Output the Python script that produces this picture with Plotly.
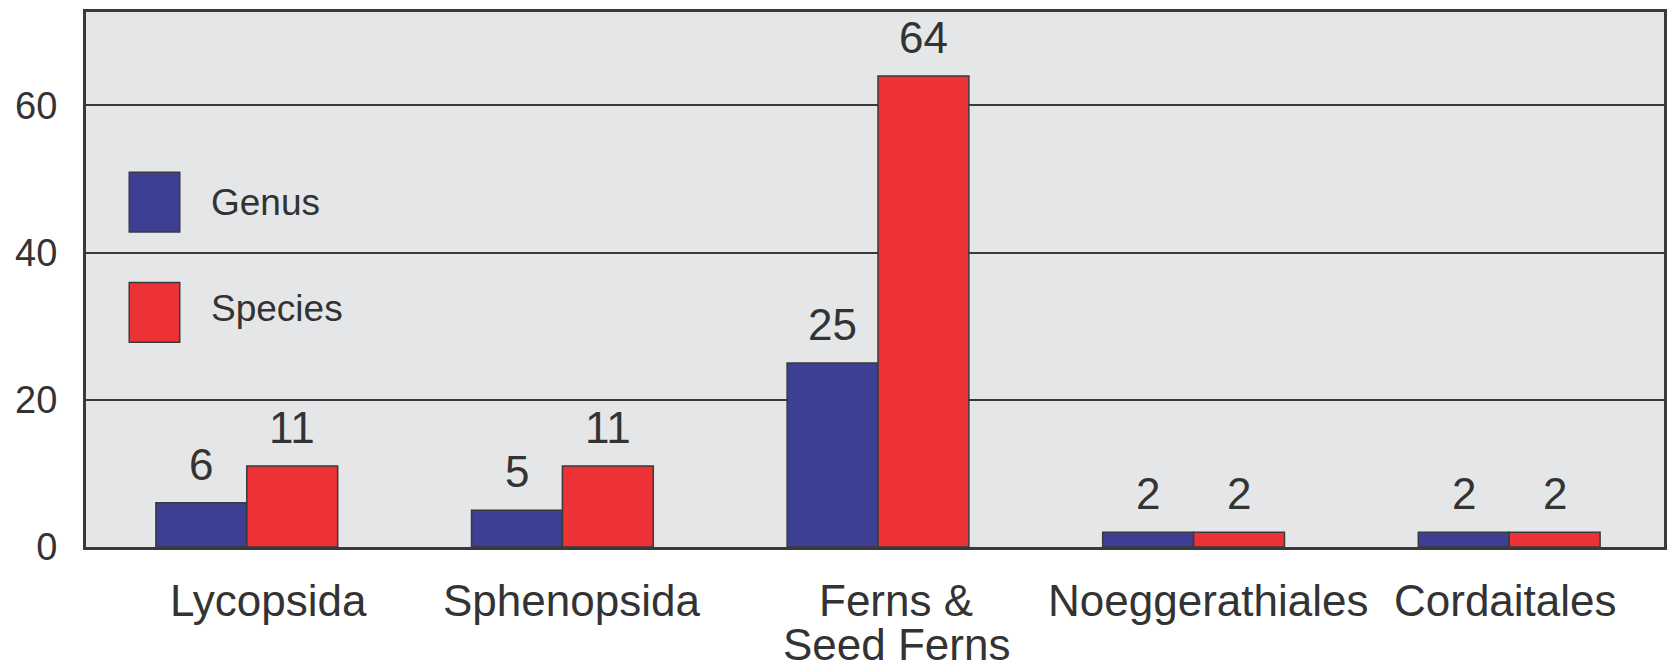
import plotly.graph_objects as go

# ---- data ----
categories = ["Lycopsida", "Sphenopsida", "Ferns &<br>Seed Ferns", "Noeggerathiales", "Cordaitales"]
genus = [6, 5, 25, 2, 2]
species = [11, 11, 64, 2, 2]
series_names = ["Genus", "Species"]
y_ticks = [0, 20, 40, 60]

# ---- styling / layout ----
label_dx = [22, 9, 18, 14, -4]   # small horizontal nudges of category labels (px)
C_GENUS = "#3d3f94"
C_SPECIES = "#ec3137"
EDGE = "#3a3a3a"
TXT = "#333333"
BG = "#e5e6e8"
FONT = "Liberation Sans, Arial, sans-serif"
BAR_PX = 91

fig = go.Figure()
fig.add_bar(
    x=categories, y=genus, name=series_names[0],
    marker=dict(color=C_GENUS, line=dict(color=EDGE, width=1.5)), showlegend=False,
)
fig.add_bar(
    x=categories, y=species, name=series_names[1],
    marker=dict(color=C_SPECIES, line=dict(color=EDGE, width=1.5)), showlegend=False,
)

annotations = []
# value labels above bars
for vals, sign in ((genus, -1), (species, 1)):
    for cat, v in zip(categories, vals):
        annotations.append(dict(
            x=cat, y=v, xref="x", yref="y", text=str(v),
            showarrow=False, yanchor="bottom", yshift=12, xshift=sign * BAR_PX / 2,
            font=dict(size=44, color=TXT, family=FONT),
        ))
# category labels
for cat, dx in zip(categories, label_dx):
    for i, line in enumerate(cat.split("<br>")):
        annotations.append(dict(
            x=cat, y=0, xref="x", yref="paper", text=line, showarrow=False,
            yanchor="middle", yshift=-53 - i * 44, xshift=dx,
            font=dict(size=44, color=TXT, family=FONT),
        ))
# legend text
for name, yc in zip(series_names, (0.6439, 0.4467)):
    annotations.append(dict(
        x=0.0779, y=yc, xref="paper", yref="paper", text=name, showarrow=False,
        xanchor="left", yanchor="middle",
        font=dict(size=37, color=TXT, family=FONT),
    ))

shapes = []
for col, (y0, y1) in zip((C_GENUS, C_SPECIES), ((0.589, 0.7004), (0.3826, 0.4942))):
    shapes.append(dict(
        type="rect", xref="paper", yref="paper", x0=0.0274, x1=0.0594, y0=y0, y1=y1,
        fillcolor=col, line=dict(color=EDGE, width=1.5),
    ))

shift = 3 / 316
fig.update_layout(
    width=1660, height=656,
    margin=dict(l=78, r=2, t=1, b=117),
    paper_bgcolor="white", plot_bgcolor=BG,
    barmode="group", bargap=0.424, bargroupgap=0,
    font=dict(family=FONT, color=TXT),
    annotations=annotations, shapes=shapes,
    xaxis=dict(
        type="category", range=[-0.5 - shift, 4.5 - shift],
        showticklabels=False, showgrid=False, zeroline=False,
        showline=True, linecolor=EDGE, linewidth=3, mirror=True, ticks="",
    ),
    yaxis=dict(
        range=[0, 72.7], tickvals=y_ticks, ticktext=[str(t) for t in y_ticks],
        showgrid=True, gridcolor=EDGE, gridwidth=1.5, zeroline=False,
        showline=True, linecolor=EDGE, linewidth=3, mirror=True, ticks="",
        ticklabelstandoff=18,
        tickfont=dict(size=38, color=TXT, family=FONT),
    ),
)

fig.write_html("out.html")
